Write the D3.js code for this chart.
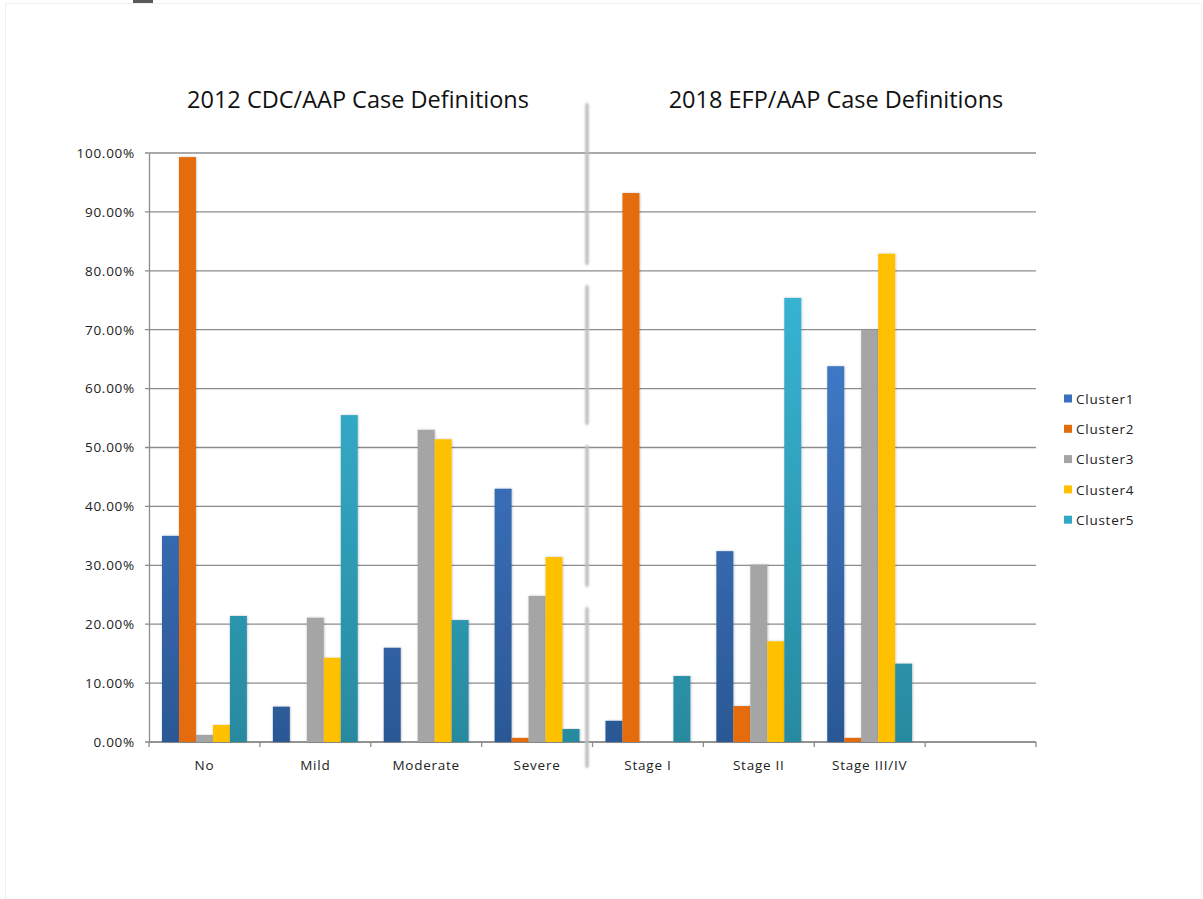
<!DOCTYPE html>
<html>
<head>
<meta charset="utf-8">
<script src="https://cdn.jsdelivr.net/npm/d3@7/dist/d3.min.js"></script>
<style>
  html, body { margin: 0; padding: 0; background: #fff; }
  svg { display: block; }
</style>
</head>
<body>
<svg id="chart" width="1203" height="899"></svg>
<script>
// Periodontitis case definitions by cluster (share of each cluster, %)
const categories = ["No", "Mild", "Moderate", "Severe", "Stage I", "Stage II", "Stage III/IV", ""];
const seriesNames = ["Cluster1", "Cluster2", "Cluster3", "Cluster4", "Cluster5"];
const cluster1 = [35.0, 6.0, 16.0, 43.0, 3.6, 32.4, 63.8, null];
const cluster2 = [99.3, 0, 0, 0.7, 93.2, 6.1, 0.7, null];
const cluster3 = [1.2, 21.1, 53.0, 24.8, 0, 30.1, 70.0, null];
const cluster4 = [2.9, 14.3, 51.4, 31.4, 0, 17.1, 82.9, null];
const cluster5 = [21.4, 55.5, 20.7, 2.2, 11.2, 75.4, 13.3, null];
const yTicks = [0, 10, 20, 30, 40, 50, 60, 70, 80, 90, 100];
const panelTitles = ["2012 CDC/AAP Case Definitions", "2018 EFP/AAP Case Definitions"];

const series = [cluster1, cluster2, cluster3, cluster4, cluster5];

const svg = d3.select("#chart");
const font = "'Open Sans', 'Liberation Sans', sans-serif";
const smallSize = 13.5, smallSpacing = 0.75;

// slide frame
svg.append("rect").attr("x", 5.5).attr("y", 3.5).attr("width", 1196).attr("height", 900)
  .attr("fill", "none").attr("stroke", "#f0f0f0").attr("stroke-width", 1);
svg.append("rect").attr("x", 133).attr("y", 0).attr("width", 20).attr("height", 3).attr("fill", "#5a5a5a");

const plotLeft = 149, plotRight = 1036, plotTop = 153, plotBottom = 742;

const x = d3.scaleBand().domain(categories.map((c, i) => i)).range([plotLeft, plotRight]).paddingInner(0).paddingOuter(0);
const y = d3.scaleLinear().domain([0, 100]).range([plotBottom, plotTop]);
const inner = d3.scaleBand().domain(d3.range(seriesNames.length)).range([0, x.bandwidth()]).paddingOuter(0.765).paddingInner(0);

const defs = svg.append("defs");
function vgrad(id, topColor, bottomColor) {
  const g = defs.append("linearGradient").attr("id", id)
    .attr("gradientUnits", "userSpaceOnUse")
    .attr("x1", 0).attr("y1", y(100)).attr("x2", 0).attr("y2", y(0));
  g.append("stop").attr("offset", "0%").attr("stop-color", topColor);
  g.append("stop").attr("offset", "100%").attr("stop-color", bottomColor);
}
// gradients span the whole plot height, so short bars take the darker end
vgrad("g1", "#4a8ae0", "#2b5895");
vgrad("g5", "#3cc0e3", "#288a9f");
const fills = ["url(#g1)", "#e46c0a", "#a5a5a5", "#ffc000", "url(#g5)"];
const legendColors = ["#3a70c0", "#e46c0a", "#a5a5a5", "#ffc000", "#31a8c8"];

const sh = defs.append("filter").attr("id", "shadow").attr("x", "-30%").attr("y", "-5%").attr("width", "160%").attr("height", "110%");
sh.append("feDropShadow").attr("dx", 0.5).attr("dy", 0).attr("stdDeviation", 0.8).attr("flood-color", "#000").attr("flood-opacity", 0.25);

const blur = defs.append("filter").attr("id", "soft").attr("filterUnits", "userSpaceOnUse")
  .attr("x", 560).attr("y", 80).attr("width", 60).attr("height", 720);
blur.append("feGaussianBlur").attr("stdDeviation", 0.9);

// gridlines
svg.append("g").selectAll("line").data(yTicks).join("line")
  .attr("x1", plotLeft - 4).attr("x2", plotRight)
  .attr("y1", d => y(d)).attr("y2", d => y(d))
  .attr("stroke", "#8c8c8c").attr("stroke-width", 1.3);

// y axis
const yAxis = d3.axisLeft(y).tickValues(yTicks).tickSize(0).tickPadding(14)
  .tickFormat(d => d.toFixed(2) + "%");
const ya = svg.append("g").attr("transform", `translate(${plotLeft},0)`).call(yAxis);
ya.select(".domain").attr("stroke", "#8c8c8c").attr("stroke-width", 1.3);
ya.selectAll("text").attr("font-family", font).attr("font-size", smallSize)
  .attr("letter-spacing", smallSpacing).attr("fill", "#222");

// x axis
const xa = svg.append("g").attr("transform", `translate(0,${plotBottom})`);
xa.append("line").attr("x1", plotLeft).attr("x2", plotRight).attr("y1", 0).attr("y2", 0)
  .attr("stroke", "#8c8c8c").attr("stroke-width", 1.3);
const bounds = categories.map((c, i) => x(i)).concat([plotRight]);
xa.selectAll("line.tick").data(bounds).join("line").attr("class", "tick")
  .attr("x1", d => d).attr("x2", d => d).attr("y1", 0).attr("y2", 5)
  .attr("stroke", "#8c8c8c").attr("stroke-width", 1.3);
xa.selectAll("text").data(categories).join("text")
  .attr("x", (d, i) => x(i) + x.bandwidth() / 2).attr("y", 28)
  .attr("text-anchor", "middle").attr("font-family", font).attr("font-size", smallSize)
  .attr("letter-spacing", smallSpacing).attr("fill", "#222")
  .text(d => d);

// bars
const barData = [];
categories.forEach((c, i) => {
  series.forEach((s, k) => {
    if (s[i] != null && s[i] > 0) barData.push({ i, k, v: s[i] });
  });
});
svg.append("g").selectAll("rect").data(barData).join("rect")
  .attr("x", d => x(d.i) + inner(d.k))
  .attr("width", inner.bandwidth())
  .attr("y", d => y(d.v))
  .attr("height", d => y(0) - y(d.v))
  .attr("fill", d => fills[d.k])
  .attr("filter", "url(#shadow)");

// dashed divider between the two classification systems
const divX = 587;
const segs = [[103, 265], [285, 425], [445, 587], [607, 768]];
svg.append("g").attr("filter", "url(#soft)").selectAll("rect").data(segs).join("rect")
  .attr("x", divX - 1.8).attr("width", 3.6)
  .attr("y", d => d[0]).attr("height", d => d[1] - d[0])
  .attr("rx", 1.8)
  .attr("fill", "#bdbdbd");

// panel titles
svg.append("g").selectAll("text").data(panelTitles).join("text")
  .attr("x", (d, i) => i === 0 ? 358 : 836).attr("y", 108)
  .attr("text-anchor", "middle").attr("font-family", font).attr("font-size", 23.5).attr("fill", "#111")
  .text(d => d);

// legend
const lg = svg.append("g").attr("transform", "translate(1064,399)");
const items = lg.selectAll("g").data(seriesNames).join("g")
  .attr("transform", (d, i) => `translate(0,${i * 30.3})`);
items.append("rect").attr("x", 0).attr("y", -4.5).attr("width", 8).attr("height", 8)
  .attr("fill", (d, i) => legendColors[i]);
items.append("text").attr("x", 12).attr("y", 0).attr("dy", "0.35em")
  .attr("font-family", font).attr("font-size", smallSize).attr("letter-spacing", smallSpacing)
  .attr("fill", "#222").text(d => d);
</script>
</body>
</html>
